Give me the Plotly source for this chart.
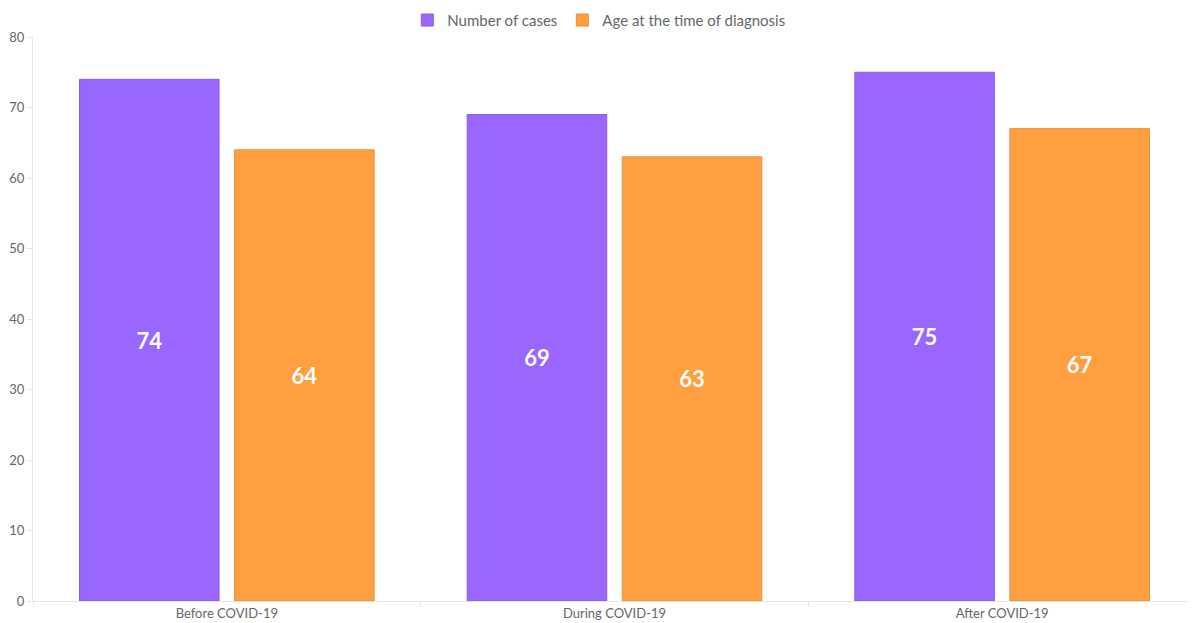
import plotly.graph_objects as go

categories = ["Before COVID-19", "During COVID-19", "After COVID-19"]
cases = [74, 69, 75]
age = [64, 63, 67]
series_names = ["Number of cases", "Age at the time of diagnosis"]
y_ticks = [0, 10, 20, 30, 40, 50, 60, 70, 80]

fig = go.Figure()
fig.add_trace(go.Bar(
    x=categories, y=cases, name=series_names[0],
    marker=dict(color="#9966FF", line=dict(color="#8a5ce6", width=1)),
    text=cases, textposition="inside", insidetextanchor="middle",
    textfont=dict(family="Lato", size=22, color="white", weight="bold"),
    textangle=0,
))
fig.add_trace(go.Bar(
    x=categories, y=age, name=series_names[1],
    marker=dict(color="#FF9F40", line=dict(color="#e68f39", width=1)),
    text=age, textposition="inside", insidetextanchor="middle",
    textfont=dict(family="Lato", size=22, color="white", weight="bold"),
    textangle=0,
))

fig.update_layout(
    width=1188, height=615,
    margin=dict(l=25, r=0, t=29, b=22, autoexpand=False),
    paper_bgcolor="white", plot_bgcolor="white",
    font=dict(family="Lato", color="#666666", size=12),
    barmode="group", bargap=0.2, bargroupgap=0.1,
    showlegend=True,
    legend=dict(orientation="h", x=0.4865, xanchor="center",
                yref="container", y=0.98, yanchor="middle",
                font=dict(size=15, color="#666666"),
                traceorder="normal"),
    uniformtext=dict(mode="show", minsize=22),
)
fig.update_xaxes(
    type="category", showgrid=False, showline=True, linecolor="#e5e5e5", linewidth=1,
    ticks="outside", tickson="boundaries", ticklen=5, tickcolor="#e5e5e5",
    tickfont=dict(size=13, color="#666666"), zeroline=False, automargin=False,
)
fig.update_yaxes(
    range=[0, 80], tickvals=y_ticks, showgrid=False, showline=True,
    linecolor="#e5e5e5", linewidth=1, ticks="outside", ticklen=5, tickcolor="#e5e5e5",
    tickfont=dict(size=13, color="#666666"), zeroline=False, automargin=False,
)

fig.write_html("out.html")
